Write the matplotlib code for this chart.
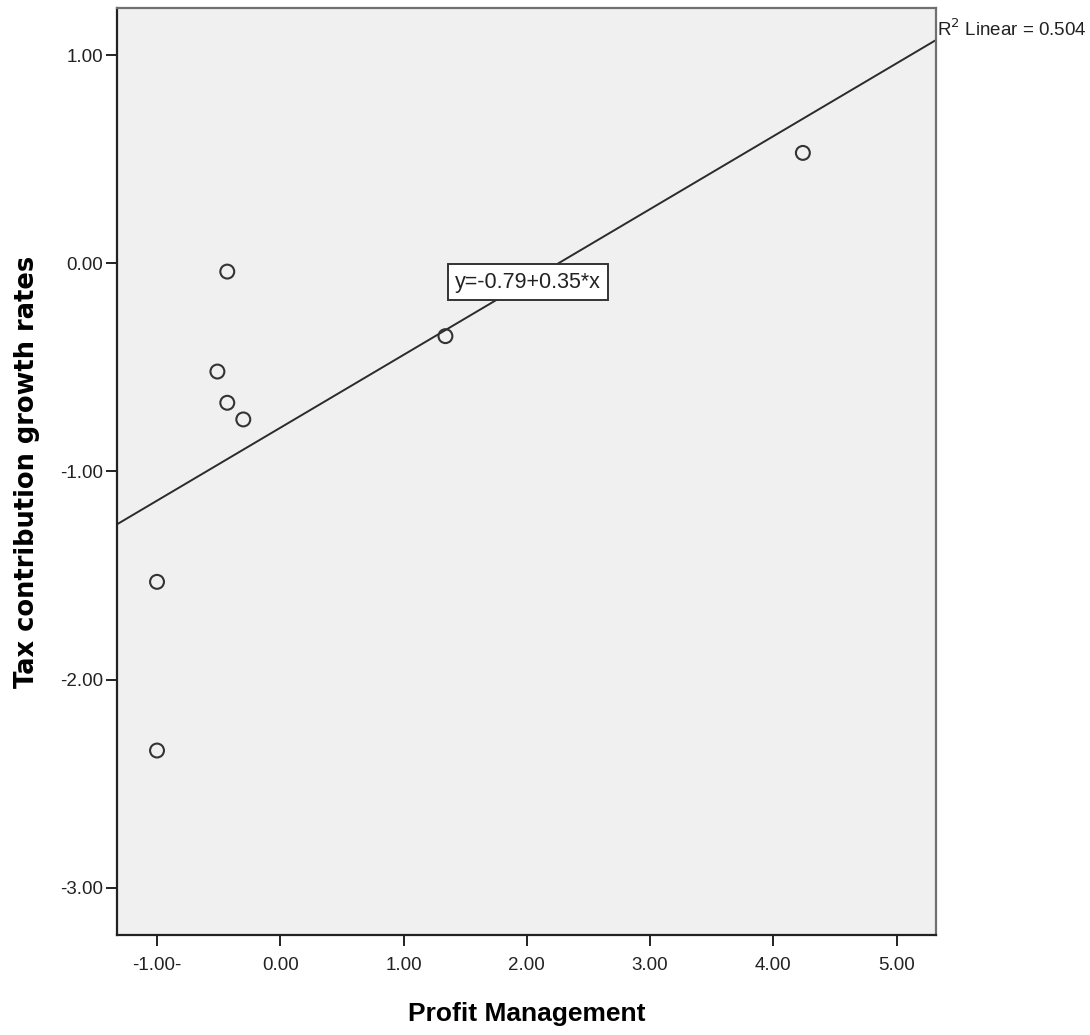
import numpy as np
import matplotlib.pyplot as plt

# values
profit_mgmt = [-1.00, -1.00, -0.43, -0.51, -0.43, -0.30, 1.34, 4.24]
tax_growth = [-1.53, -2.34, -0.04, -0.52, -0.67, -0.75, -0.35, 0.53]

intercept = -0.79
slope = 0.35
r2 = 0.504

x_ticks = [-1.0, 0.0, 1.0, 2.0, 3.0, 4.0, 5.0]
x_tick_labels = ["-1.00-", "0.00", "1.00", "2.00", "3.00", "4.00", "5.00"]
y_ticks = [1.0, 0.0, -1.0, -2.0, -3.0]
y_tick_labels = ["1.00", "0.00", "-1.00", "-2.00", "-3.00"]


def main():
    plt.rcParams['font.family'] = ['Liberation Sans', 'DejaVu Sans']
    fig = plt.figure(figsize=(10.9, 10.35), dpi=100)
    ax = fig.add_axes([0.1073, 0.0966, 0.7514, 0.8957])
    ax.set_facecolor('#f0f0f0')

    xlim = (-1.325, 5.32)
    ylim = (-3.226, 1.226)
    ax.set_xlim(*xlim)
    ax.set_ylim(*ylim)

    # fit line across the whole axis
    xs = np.array(xlim)
    ax.plot(xs, intercept + slope * xs, color='#2b2b2b', linewidth=1.4, zorder=2)

    ax.scatter(profit_mgmt, tax_growth, s=100, facecolors='none',
               edgecolors='#333333', linewidths=1.5, zorder=3)

    ax.set_xticks(x_ticks)
    ax.set_xticklabels(x_tick_labels)
    ax.set_yticks(y_ticks)
    ax.set_yticklabels(y_tick_labels)
    ax.tick_params(axis='both', labelsize=13.5, color='#222222', length=8,
                   width=1.4, labelcolor='#222222')
    ax.tick_params(axis='x', pad=8)
    ax.tick_params(axis='y', pad=2)

    for side in ['left', 'bottom']:
        ax.spines[side].set_linewidth(1.6)
        ax.spines[side].set_color('#222222')
    for side in ['top', 'right']:
        ax.spines[side].set_linewidth(1.6)
        ax.spines[side].set_color('#707070')

    ax.set_xlabel("Profit Management", fontsize=19, fontweight='bold', labelpad=20)
    ax.set_ylabel("Tax contribution growth rates", fontsize=18.5, fontweight='bold',
                  family=['DejaVu Sans'])
    ax.yaxis.set_label_coords(-0.094, 0.5)

    ax.text(2.01, -0.09, "y=-0.79+0.35*x", fontsize=15.5, ha='center', va='center',
            color='#222222', zorder=4,
            bbox=dict(boxstyle='square,pad=0.35', facecolor='white',
                      edgecolor='#333333', linewidth=1.4))

    ax.text(1.001, 0.977, "R$^2$ Linear = %.3f" % r2, transform=ax.transAxes,
            fontsize=13.5, ha='left', va='center', color='#222222', clip_on=False)

    fig.savefig("out.png", dpi=100)


if __name__ == "__main__":
    main()
